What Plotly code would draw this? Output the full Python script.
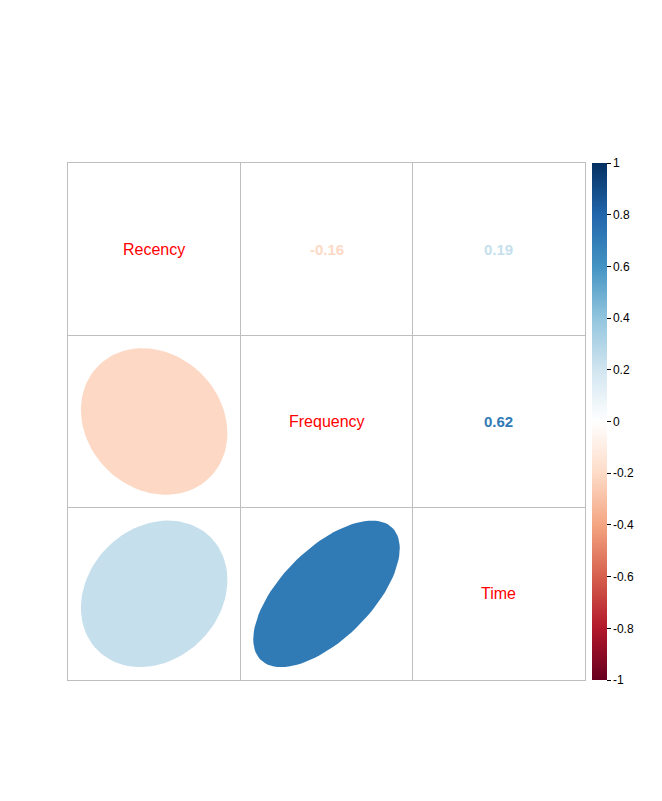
import numpy as np
import plotly.graph_objects as go

variables = ["Recency", "Frequency", "Time"]
corr = [
    [1.00, -0.16, 0.19],
    [-0.16, 1.00, 0.62],
    [0.19, 0.62, 1.00],
]
colorbar_ticks = [-1, -0.8, -0.6, -0.4, -0.2, 0, 0.2, 0.4, 0.6, 0.8, 1]
rdbu = ["#67001F", "#B2182B", "#D6604D", "#F4A582", "#FDDBC7", "#FFFFFF",
        "#D1E5F0", "#92C5DE", "#4393C3", "#2166AC", "#053061"]


def hex2rgb(h):
    h = h.lstrip("#")
    return [int(h[i:i + 2], 16) for i in (0, 2, 4)]


def value_color(v):
    a_v = abs(v)
    v = float(np.sign(v)) * min(1.0, a_v + 0.03 + 0.1 * a_v)
    pos = (v + 1) / 2 * (len(rdbu) - 1)
    i = int(np.floor(pos))
    i = min(max(i, 0), len(rdbu) - 2)
    t = pos - i
    a, b = hex2rgb(rdbu[i]), hex2rgb(rdbu[i + 1])
    c = [round(a[k] + (b[k] - a[k]) * t) for k in range(3)]
    return "rgb(%d,%d,%d)" % tuple(c)


def ellipse(rho, n=99):
    k = np.linspace(0, 2 * np.pi, n)
    d = np.arccos(rho) / 2
    return 0.85 * np.cos(k + d) / 2, 0.85 * np.cos(k - d) / 2


n = len(variables)
fig = go.Figure()

# lower triangle: ellipses; upper triangle: numbers; diagonal: names
for i in range(n):
    for j in range(n):
        cx = j + 1
        cy = n - i
        r = corr[i][j]
        if i > j:
            ex, ey = ellipse(r)
            fig.add_trace(go.Scatter(
                x=cx + ex, y=cy + ey, mode="lines", fill="toself",
                fillcolor=value_color(r), line=dict(width=0, color=value_color(r)),
                hoverinfo="skip", showlegend=False))
        elif i < j:
            fig.add_annotation(x=cx, y=cy, text="<b>%.2f</b>" % r, showarrow=False,
                               font=dict(family="Liberation Sans, Arial", size=15,
                                         color=value_color(r)))
        else:
            fig.add_annotation(x=cx, y=cy, text=variables[i], showarrow=False,
                               font=dict(family="Liberation Sans, Arial", size=16,
                                         color="#FF0000"))

# colorbar
fig.add_trace(go.Scatter(
    x=[None], y=[None], mode="markers",
    marker=dict(colorscale=[[k / 10, c] for k, c in enumerate(rdbu)],
                cmin=-1, cmax=1, color=[0], showscale=True,
                colorbar=dict(x=1.0135, xanchor="left", xpad=0, ypad=0,
                              y=0.5, yanchor="middle",
                              len=517, lenmode="pixels", thickness=15,
                              thicknessmode="pixels", outlinewidth=0,
                              tickvals=colorbar_ticks,
                              ticktext=[("%g" % t) for t in colorbar_ticks],
                              ticks="outside", ticklen=4, tickcolor="#000",
                              tickfont=dict(family="Liberation Sans, Arial", size=12, color="#000"))),
    hoverinfo="skip", showlegend=False))

axis_common = dict(range=[0.5, n + 0.5], tick0=0.5, dtick=1, showgrid=True,
                   gridcolor="#BEBEBE", gridwidth=1, showticklabels=False, ticks="",
                   zeroline=False, showline=True, mirror=True, linecolor="#BEBEBE",
                   linewidth=1, fixedrange=True)

fig.update_layout(
    width=662, height=801,
    margin=dict(l=60, r=85, t=155, b=129),
    paper_bgcolor="white", plot_bgcolor="white",
    xaxis=axis_common, yaxis=axis_common,
    showlegend=False,
)

fig.write_html("out.html")
